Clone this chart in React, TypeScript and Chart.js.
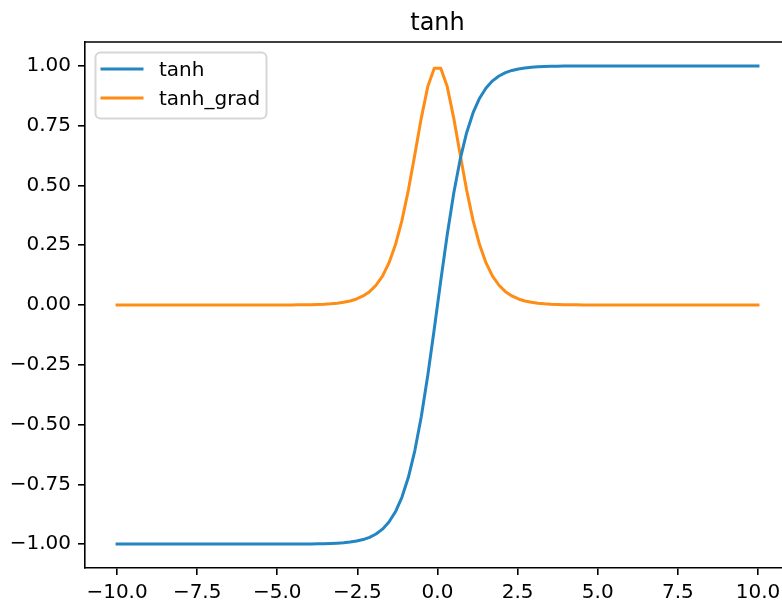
import { useEffect, useRef } from "react";
import { Chart, registerables } from "chart.js";

Chart.register(...registerables);

const FONT = "'DejaVu Sans', 'Liberation Sans', sans-serif";

const xValues = [
  -10.0, -9.798, -9.596, -9.394, -9.192, -8.99, -8.788, -8.586, -8.384, -8.182,
  -7.98, -7.778, -7.576, -7.374, -7.172, -6.97, -6.768, -6.566, -6.364, -6.162,
  -5.96, -5.758, -5.556, -5.354, -5.152, -4.949, -4.747, -4.545, -4.343, -4.141,
  -3.939, -3.737, -3.535, -3.333, -3.131, -2.929, -2.727, -2.525, -2.323, -2.121,
  -1.919, -1.717, -1.515, -1.313, -1.111, -0.909, -0.707, -0.505, -0.303, -0.101,
  0.101, 0.303, 0.505, 0.707, 0.909, 1.111, 1.313, 1.515, 1.717, 1.919,
  2.121, 2.323, 2.525, 2.727, 2.929, 3.131, 3.333, 3.535, 3.737, 3.939,
  4.141, 4.343, 4.545, 4.747, 4.949, 5.152, 5.354, 5.556, 5.758, 5.96,
  6.162, 6.364, 6.566, 6.768, 6.97, 7.172, 7.374, 7.576, 7.778, 7.98,
  8.182, 8.384, 8.586, 8.788, 8.99, 9.192, 9.394, 9.596, 9.798, 10.0,
];

const tanhValues = [
  -1.0, -1.0, -1.0, -1.0, -1.0, -1.0, -1.0, -1.0, -1.0, -1.0,
  -1.0, -1.0, -1.0, -1.0, -1.0, -1.0, -1.0, -1.0, -1.0, -1.0,
  -1.0, -1.0, -1.0, -1.0, -0.9999, -0.9999, -0.9998, -0.9998, -0.9997, -0.9995,
  -0.9992, -0.9989, -0.9983, -0.9975, -0.9962, -0.9943, -0.9915, -0.9873, -0.981, -0.9717,
  -0.9578, -0.9375, -0.9078, -0.865, -0.8044, -0.7207, -0.6089, -0.466, -0.2941, -0.1007,
  0.1007, 0.2941, 0.466, 0.6089, 0.7207, 0.8044, 0.865, 0.9078, 0.9375, 0.9578,
  0.9717, 0.981, 0.9873, 0.9915, 0.9943, 0.9962, 0.9975, 0.9983, 0.9989, 0.9992,
  0.9995, 0.9997, 0.9998, 0.9998, 0.9999, 0.9999, 1.0, 1.0, 1.0, 1.0,
  1.0, 1.0, 1.0, 1.0, 1.0, 1.0, 1.0, 1.0, 1.0, 1.0,
  1.0, 1.0, 1.0, 1.0, 1.0, 1.0, 1.0, 1.0, 1.0, 1.0,
];

const gradValues = [
  0, 0, 0, 0, 0, 0, 0, 0, 0, 0,
  0, 0, 0, 0, 0, 0, 0, 0, 0, 0,
  0.00003, 0.00004, 0.00006, 0.00009, 0.00013, 0.0002, 0.0003, 0.00045, 0.0007, 0.001,
  0.0015, 0.0023, 0.0034, 0.0051, 0.0076, 0.0114, 0.0169, 0.0253, 0.0377, 0.0559,
  0.0826, 0.1211, 0.1759, 0.2517, 0.3529, 0.4806, 0.6293, 0.7828, 0.9135, 0.9899,
  0.9899, 0.9135, 0.7828, 0.6293, 0.4806, 0.3529, 0.2517, 0.1759, 0.1211, 0.0826,
  0.0559, 0.0377, 0.0253, 0.0169, 0.0114, 0.0076, 0.0051, 0.0034, 0.0023, 0.0015,
  0.001, 0.0007, 0.00045, 0.0003, 0.0002, 0.00013, 0.00009, 0.00006, 0.00004, 0.00003,
  0, 0, 0, 0, 0, 0, 0, 0, 0, 0,
  0, 0, 0, 0, 0, 0, 0, 0, 0, 0,
];

const xTicks = [-10, -7.5, -5, -2.5, 0, 2.5, 5, 7.5, 10];
const yTicks = [-1, -0.75, -0.5, -0.25, 0, 0.25, 0.5, 0.75, 1];

const titleText = "tanh";
const seriesLabels = ["tanh", "tanh_grad"];
const seriesColors = ["#2385c2", "#ff8c14"];

const fmt = (v: number, d: number) => v.toFixed(d).replace("-", "\u2212");

export default function App() {
  const ref = useRef<HTMLCanvasElement | null>(null);

  useEffect(() => {
    document.body.style.margin = "0";
    document.body.style.overflow = "hidden";
    const canvas = ref.current;
    if (!canvas) return;

    const framePlugin = {
      id: "frameTitleLegend",
      afterDraw(chart: any) {
        const ctx = chart.ctx;
        const a = chart.chartArea;
        ctx.save();
        // top spine
        ctx.strokeStyle = "#000";
        ctx.lineWidth = 1.6;
        ctx.beginPath();
        ctx.moveTo(a.left, a.top);
        ctx.lineTo(a.right + 2, a.top);
        ctx.stroke();

        // title
        ctx.fillStyle = "#000";
        ctx.font = `24px ${FONT}`;
        ctx.textAlign = "center";
        ctx.textBaseline = "alphabetic";
        ctx.fillText(titleText, chart.scales.x.getPixelForValue(0), 30);

        // legend
        const bx = 95.5, by = 52.5, bw = 171, bh = 66;
        ctx.beginPath();
        ctx.roundRect(bx, by, bw, bh, 5);
        ctx.fillStyle = "rgba(255,255,255,0.8)";
        ctx.fill();
        ctx.strokeStyle = "rgba(204,204,204,0.8)";
        ctx.lineWidth = 2;
        ctx.stroke();

        const rows = [69, 98];
        const bases = [76, 105];
        chart.data.datasets.forEach((ds: any, i: number) => {
          ctx.strokeStyle = ds.borderColor;
          ctx.lineWidth = 3;
          ctx.lineCap = "square";
          ctx.beginPath();
          ctx.moveTo(102, rows[i]);
          ctx.lineTo(142, rows[i]);
          ctx.stroke();
          ctx.fillStyle = "#000";
          ctx.font = `20px ${FONT}`;
          ctx.textAlign = "left";
          ctx.textBaseline = "alphabetic";
          ctx.fillText(ds.label, 159, bases[i]);
        });
        ctx.restore();
      },
    };

    const chart = new Chart(canvas, {
      type: "line",
      data: {
        datasets: [
          {
            label: seriesLabels[0],
            data: xValues.map((x, i) => ({ x, y: tanhValues[i] })),
            borderColor: seriesColors[0],
            backgroundColor: seriesColors[0],
            borderWidth: 3,
            pointRadius: 0,
            tension: 0,
            borderJoinStyle: "round",
            borderCapStyle: "square",
          },
          {
            label: seriesLabels[1],
            data: xValues.map((x, i) => ({ x, y: gradValues[i] })),
            borderColor: seriesColors[1],
            backgroundColor: seriesColors[1],
            borderWidth: 3,
            pointRadius: 0,
            tension: 0,
            borderJoinStyle: "round",
            borderCapStyle: "square",
          },
        ],
      },
      options: {
        animation: false,
        responsive: false,
        devicePixelRatio: 1,
        layout: { padding: { top: 42, left: 0, right: 0, bottom: 0 } },
        plugins: {
          legend: { display: false },
          title: { display: false },
          tooltip: { enabled: false },
        },
        scales: {
          x: {
            type: "linear",
            min: -11,
            max: 10.75,
            afterBuildTicks: (s: any) => {
              s.ticks = xTicks.map((v) => ({ value: v }));
            },
            afterFit: (s: any) => {
              s.height = 33;
              s.paddingLeft = 0;
              s.paddingRight = 0;
            },
            ticks: {
              padding: 6,
              autoSkip: false,
              maxRotation: 0,
              color: "#000",
              font: { family: FONT, size: 20 },
              callback: (v: any) => fmt(Number(v), 1),
            },
            grid: {
              display: true,
              drawOnChartArea: false,
              drawTicks: true,
              tickLength: 7,
              color: "#000",
              lineWidth: 1.6,
            },
            border: { display: true, color: "#000", width: 1.6 },
          },
          y: {
            type: "linear",
            min: -1.1,
            max: 1.1,
            afterBuildTicks: (s: any) => {
              s.ticks = yTicks.map((v) => ({ value: v }));
            },
            afterFit: (s: any) => {
              s.width = 85;
              s.paddingTop = 0;
              s.paddingBottom = 0;
            },
            ticks: {
              padding: 7,
              autoSkip: false,
              color: "#000",
              font: { family: FONT, size: 20 },
              callback: (v: any) => fmt(Number(v), 2),
            },
            grid: {
              display: true,
              drawOnChartArea: false,
              drawTicks: true,
              tickLength: 7,
              color: "#000",
              lineWidth: 1.6,
            },
            border: { display: true, color: "#000", width: 1.6 },
          },
        },
      },
      plugins: [framePlugin],
    } as any);

    return () => chart.destroy();
  }, []);

  return (
    <canvas
      ref={ref}
      width={782}
      height={601}
      style={{ display: "block", width: "782px", height: "601px" }}
    />
  );
}
